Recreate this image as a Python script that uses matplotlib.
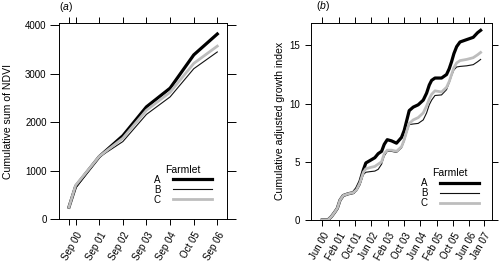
import numpy as np
import pandas as pd
import matplotlib
matplotlib.use('Agg')
import matplotlib.pyplot as plt

plt.rcParams['font.family'] = ['Liberation Sans', 'DejaVu Sans']
plt.rcParams['font.size'] = 7
plt.rcParams['mathtext.fontset'] = 'custom'
plt.rcParams['mathtext.it'] = 'Liberation Sans:italic'

# ---- panel (a): cumulative NDVI at annual reading dates ----
ndvi_dates = ['2000-06-18', '2000-09-30', '2001-09-30', '2002-09-30',
              '2003-09-30', '2004-09-30', '2005-10-01', '2006-09-30']
ndvi_ticklabels = ['', 'Sep 00', 'Sep 01', 'Sep 02', 'Sep 03', 'Sep 04', 'Oct 05', 'Sep 06']
ndvi_A = [250, 680, 1290, 1720, 2315, 2700, 3385, 3815]
ndvi_B = [250, 640, 1280, 1600, 2160, 2520, 3100, 3445]
ndvi_C = [250, 700, 1295, 1670, 2245, 2615, 3210, 3565]

# ---- panel (b): cumulative adjusted growth index ----
growth_dates = ['2000-06-01', '2000-08-24', '2000-10-17', '2000-12-07', '2001-01-11',
                '2001-02-20', '2001-04-09', '2001-06-22', '2001-09-06', '2001-10-25',
                '2001-12-14', '2002-02-03', '2002-03-12', '2002-05-11', '2002-07-24',
                '2002-09-12', '2002-11-02', '2002-12-11', '2003-01-25', '2003-03-29',
                '2003-06-12', '2003-08-26', '2003-10-05', '2003-11-09', '2003-12-18',
                '2004-02-16', '2004-04-30', '2004-07-14', '2004-09-02', '2004-10-12',
                '2004-11-16', '2005-01-05', '2005-04-13', '2005-06-26', '2005-08-05',
                '2005-09-09', '2005-10-14', '2005-11-24', '2006-01-13', '2006-04-21',
                '2006-07-29', '2006-10-02', '2006-11-16']
growth_A = [0, 0, 0.3, 0.7, 1.0, 1.7, 2.1, 2.25, 2.35, 2.7,
            3.3, 4.3, 4.9, 5.1, 5.35, 5.7, 5.9, 6.5, 6.9, 6.8,
            6.6, 7.1, 7.7, 8.5, 9.4, 9.7, 9.9, 10.3, 10.9, 11.6,
            12.0, 12.2, 12.2, 12.5, 13.0, 13.6, 14.3, 14.9, 15.3, 15.5,
            15.7, 16.1, 16.3]
growth_B = [0, 0, 0.3, 0.7, 1.0, 1.7, 2.1, 2.2, 2.3, 2.5,
            3.0, 3.9, 4.1, 4.15, 4.2, 4.35, 4.8, 5.5, 5.9, 5.9,
            5.8, 6.2, 6.8, 7.5, 8.2, 8.25, 8.3, 8.6, 9.2, 9.9,
            10.3, 10.7, 10.75, 11.2, 11.8, 12.4, 12.9, 13.15, 13.2, 13.25,
            13.35, 13.6, 13.8]
growth_C = [0, 0, 0.3, 0.7, 1.0, 1.7, 2.1, 2.25, 2.35, 2.6,
            3.2, 4.1, 4.4, 4.5, 4.6, 4.8, 5.0, 5.7, 6.0, 6.0,
            5.9, 6.3, 6.9, 7.6, 8.3, 8.6, 8.8, 9.2, 9.8, 10.4,
            10.8, 11.1, 11.0, 11.4, 11.9, 12.5, 13.1, 13.5, 13.7, 13.8,
            13.95, 14.2, 14.4]
growth_ticks = ['2000-06-01', '2001-02-01', '2001-10-01', '2002-06-01', '2003-02-01',
                '2003-10-01', '2004-06-01', '2005-02-01', '2005-10-01', '2006-06-01',
                '2007-01-01']
growth_ticklabels = ['Jun 00', 'Feb 01', 'Oct 01', 'Jun 02', 'Feb 03', 'Oct 03',
                     'Jun 04', 'Feb 05', 'Oct 05', 'Jun 06', 'Jan 07']

farmlets = ['A', 'B', 'C']
styles = {'A': dict(color='black', lw=2.3),
          'B': dict(color='#111111', lw=0.8),
          'C': dict(color='#bdbdbd', lw=2.0)}

fig = plt.figure(figsize=(5, 2.65), dpi=100)
ax1 = fig.add_axes([0.118, 0.1725, 0.3366, 0.7395])
ax2 = fig.add_axes([0.622, 0.170, 0.3626, 0.744])


def style_axis(ax):
    for s in ax.spines.values():
        s.set_linewidth(0.7)
    ax.tick_params(direction='out', length=4, width=0.7, top=True, right=True,
                   labelsize=7, pad=4)


d1 = pd.to_datetime(ndvi_dates)
for name, vals in zip(farmlets, [ndvi_A, ndvi_B, ndvi_C]):
    ax1.plot(d1, vals, label=name, solid_joinstyle='round', **styles[name])
ax1.set_xlim(pd.Timestamp('2000-01-16'), pd.Timestamp('2007-03-04'))
ax1.set_ylim(0, 4035)
ax1.set_yticks([0, 1000, 2000, 3000, 4000])
ax1.set_xticks(d1)
ax1.set_xticklabels(ndvi_ticklabels, rotation=60, ha='right', rotation_mode='anchor')
ax1.set_ylabel('Cumulative sum of NDVI', fontsize=7.6)
style_axis(ax1)
ax1.tick_params(axis='y', which='major', left=True, length=6.5, pad=2.4)
ax1.yaxis.set_label_coords(-0.274, 0.5)
ax1.text(0.0, 1.068, r'($\it{a}$)', transform=ax1.transAxes, fontsize=7.5, va='baseline')
leg1 = ax1.legend(title='Farmlet', loc='lower right', bbox_to_anchor=(0.96, 0.03),
                  frameon=False, markerfirst=False, handlelength=4.0,
                  handletextpad=1.3, labelspacing=0.0, fontsize=7,
                  title_fontsize=7.5)

d2 = pd.to_datetime(growth_dates)
for name, vals in zip(farmlets, [growth_A, growth_B, growth_C]):
    ax2.plot(d2, vals, label=name, solid_joinstyle='round', **styles[name])
ax2.set_xlim(pd.Timestamp('1999-12-16'), pd.Timestamp('2007-05-09'))
ax2.set_ylim(0, 16.95)
ax2.set_yticks([0, 5, 10, 15])
ax2.set_xticks(pd.to_datetime(growth_ticks))
ax2.set_xticklabels(growth_ticklabels, rotation=60, ha='right', rotation_mode='anchor')
ax2.set_ylabel('Cumulative adjusted growth index', fontsize=7.6)
style_axis(ax2)
ax2.yaxis.set_label_coords(-0.143, 0.5)
ax2.text(0.03, 1.068, r'($\it{b}$)', transform=ax2.transAxes, fontsize=7.5, va='baseline')
leg2 = ax2.legend(title='Farmlet', loc='lower right', bbox_to_anchor=(0.977, 0.015),
                  frameon=False, markerfirst=False, handlelength=4.0,
                  handletextpad=1.3, labelspacing=0.0, fontsize=7,
                  title_fontsize=7.5)

fig.savefig('out.png', dpi=100)
